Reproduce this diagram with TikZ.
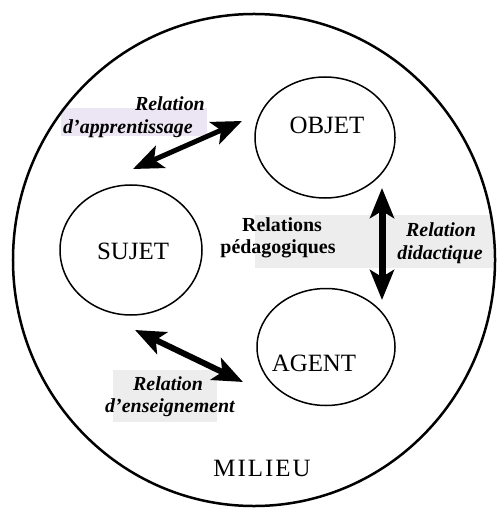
\documentclass[tikz,border=0pt]{standalone}
\usepackage{fontspec}
\setmainfont{Liberation Serif}
\newfontfamily\spacedfont[LetterSpace=8]{Liberation Serif}
\usetikzlibrary{shapes.geometric,arrows.meta}
\definecolor{lavbox}{RGB}{236,230,244}
\definecolor{graybox}{RGB}{237,237,237}
\tikzset{
  pole/.style={draw, ellipse, line width=1.5bp, inner sep=0pt},
  poletext/.style={font=\fontsize{25}{28}\selectfont, inner sep=0pt},
  rel/.style={font=\fontsize{20}{23}\selectfont\bfseries\itshape, inner sep=0pt, text height=14bp, text depth=5bp},
  relup/.style={font=\fontsize{20}{23}\selectfont\bfseries, inner sep=0pt, text height=14bp, text depth=5bp},
  dblarrow/.style={line width=#1, {Stealth[length=30bp,width=24bp,inset=7bp]}-{Stealth[length=30bp,width=24bp,inset=7bp]}},
}
\begin{document}
\begin{tikzpicture}[x=1bp,y=-1bp]
\useasboundingbox (0,0) rectangle (499,509);
% background boxes
\fill[lavbox] (61,108) rectangle (207,136);
\fill[graybox] (255,215) rectangle (493,268);
\fill[graybox] (113,370) rectangle (217,422);
% milieu
\node[draw, ellipse, line width=2.5bp, minimum width=482bp, minimum height=492bp, inner sep=0pt] (milieu) at (254,260) {};
\node[font=\fontsize{25}{28}\selectfont\spacedfont, inner sep=0pt] (milieutext) at (262,468) {MILIEU};
% poles
\node[pole, minimum width=140bp, minimum height=121bp] (objet) at (325,137.5) {};
\node[pole, minimum width=142bp, minimum height=130bp] (sujet) at (131,250) {};
\node[pole, minimum width=138bp, minimum height=117bp] (agent) at (326,347) {};
\node[poletext] (objettext) at (327,125) {OBJET};
\node[poletext] (sujettext) at (133,251) {SUJET};
\node[poletext] (agenttext) at (314,363) {AGENT};
% labels
\node[rel, anchor=east] (app1) at (205,106) {Relation};
\node[rel, anchor=west] (app2) at (63,129) {d'apprentissage};
\node[relup] (ped1) at (282,227) {Relations};
\node[relup] (ped2) at (278,249) {pédagogiques};
\node[rel] (did1) at (441,232) {Relation};
\node[rel] (did2) at (440,255) {didactique};
\node[rel] (ens1) at (168,386) {Relation};
\node[rel] (ens2) at (170,408) {d'enseignement};
% arrows
\coordinate (appA) at (133,169);
\coordinate (appB) at (242,121);
\coordinate (didA) at (382,188);
\coordinate (didB) at (382,300);
\coordinate (ensA) at (135,330);
\coordinate (ensB) at (243,382);
\draw[dblarrow=5bp] (appA) -- (appB);
\draw[dblarrow=7bp] (didA) -- (didB);
\draw[dblarrow=6bp] (ensA) -- (ensB);
\end{tikzpicture}
\end{document}
